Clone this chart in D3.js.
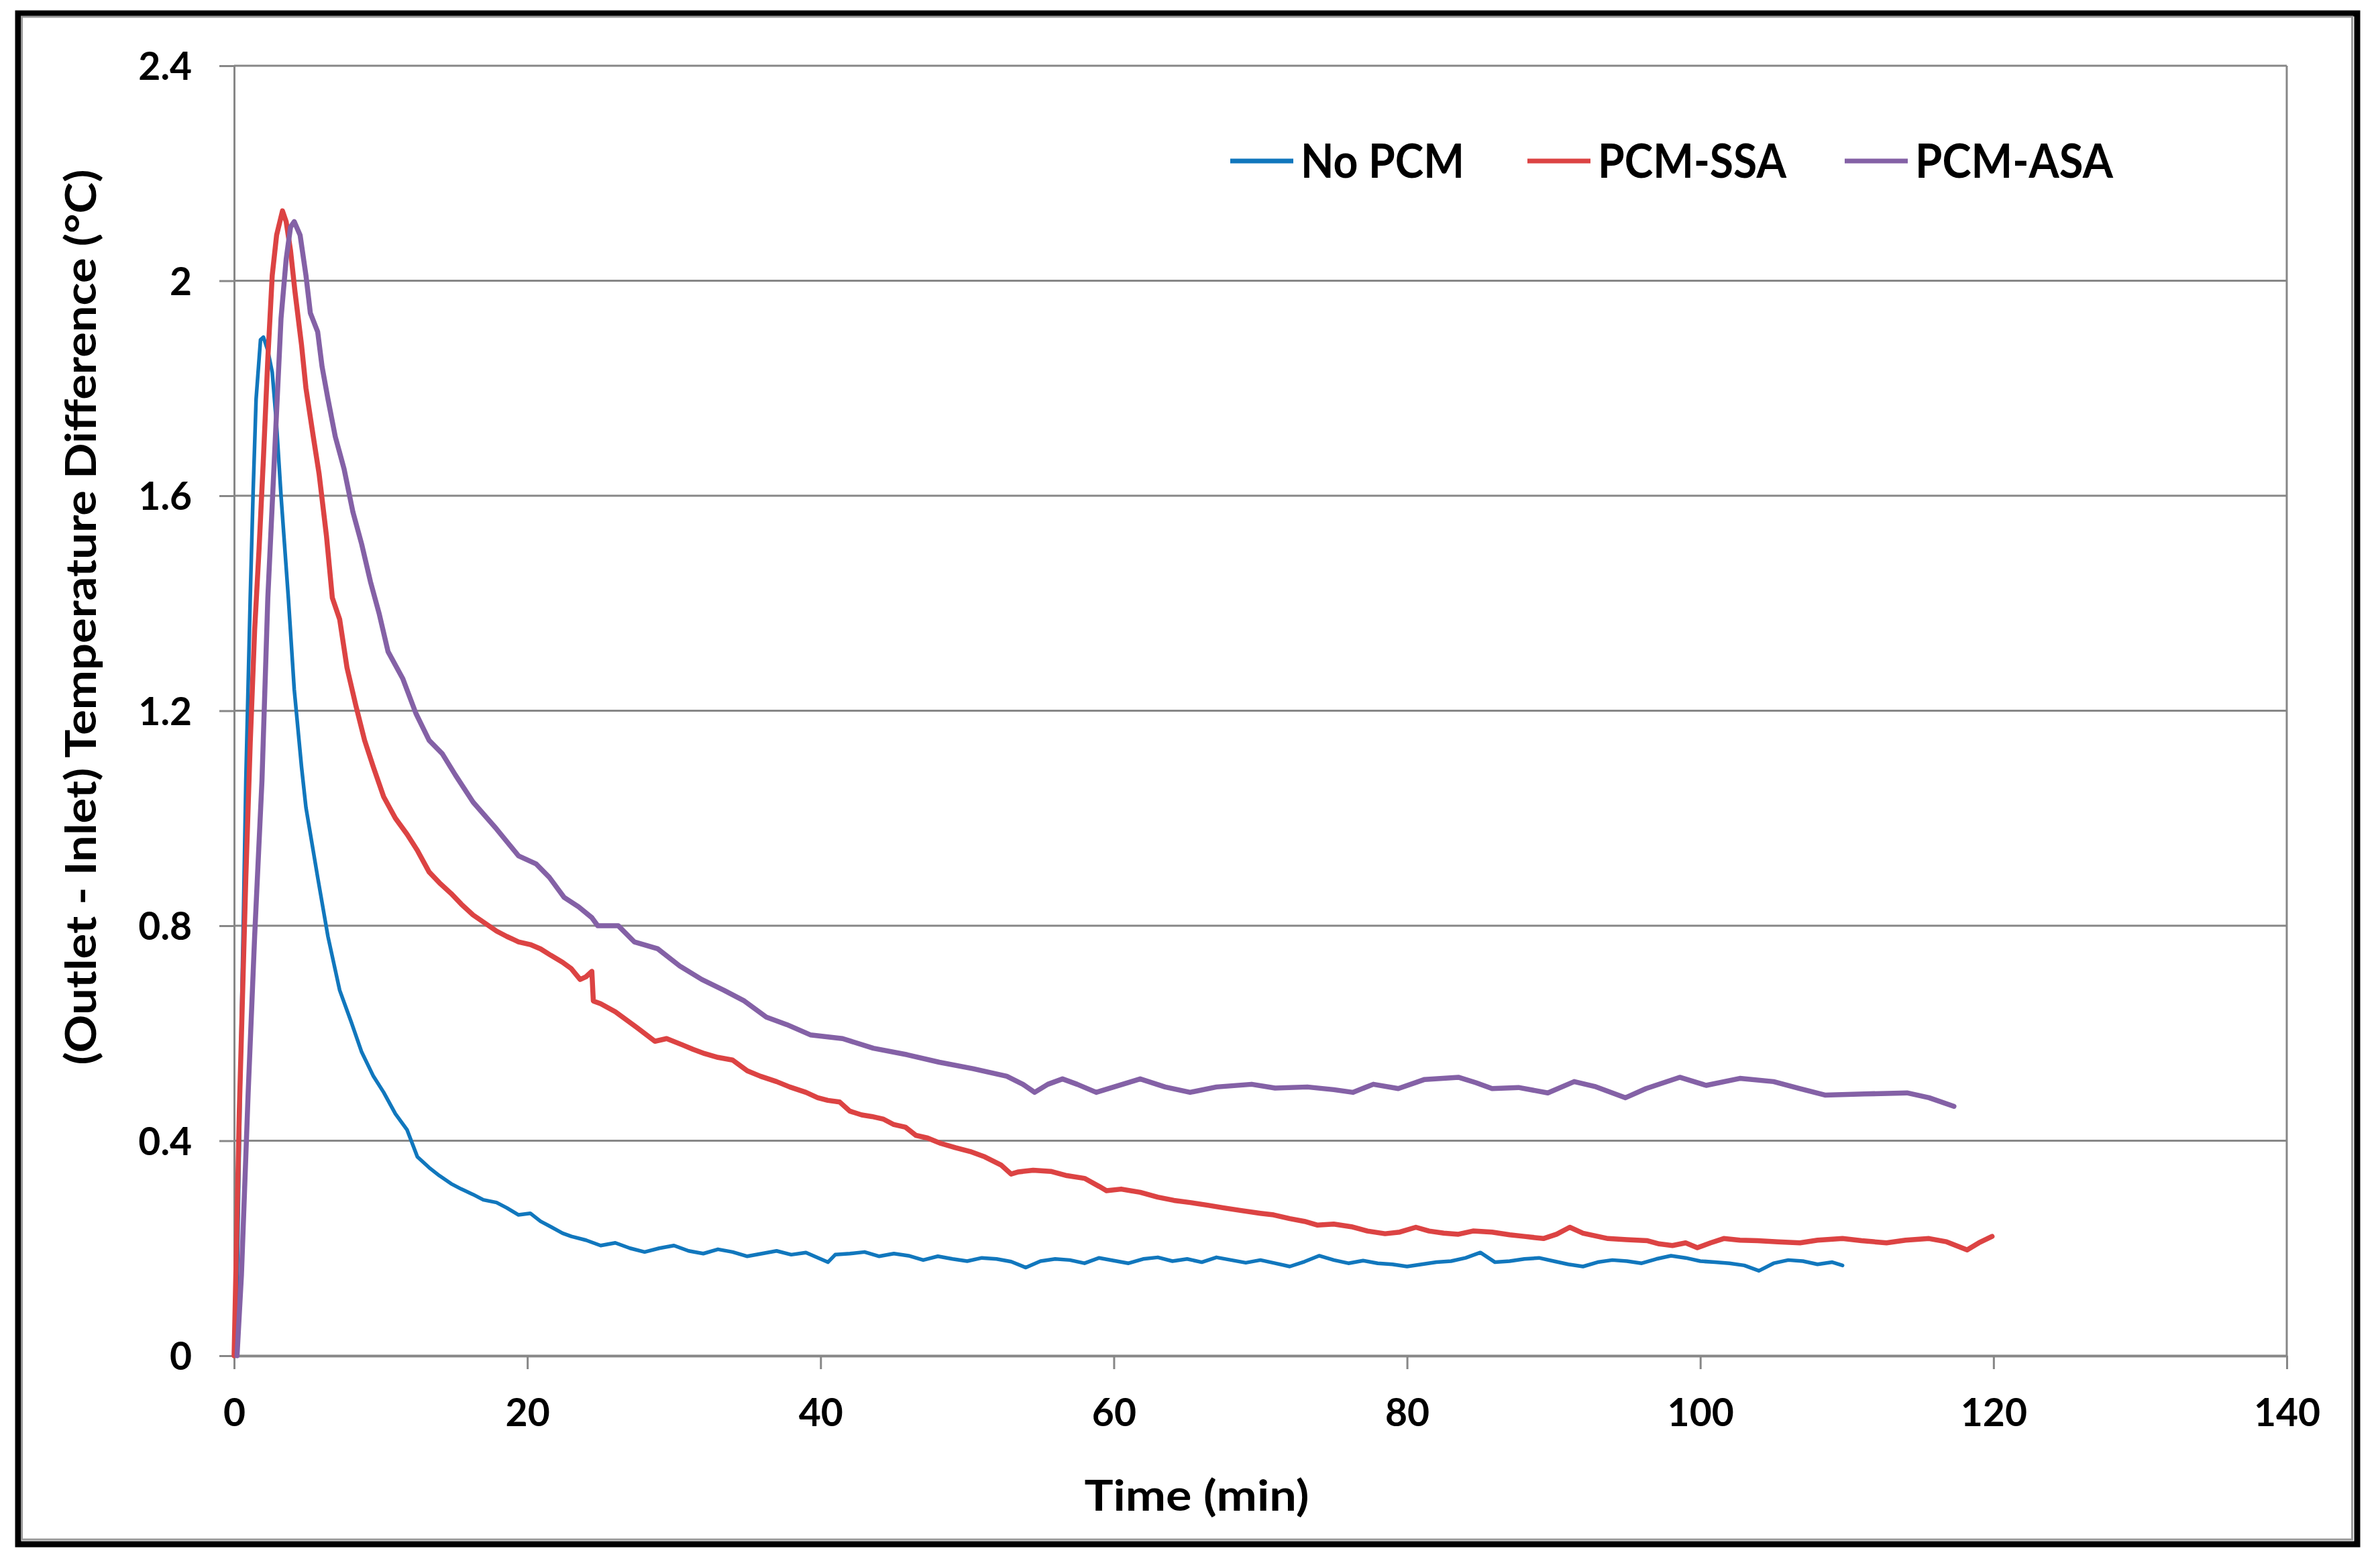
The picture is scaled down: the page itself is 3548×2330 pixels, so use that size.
<!DOCTYPE html>
<html>
<head>
<meta charset="utf-8">
<script src="https://cdn.jsdelivr.net/npm/d3@7"></script>
<style>
body { margin: 0; background: #fff; }
text { font-family: Lato, 'Open Sans', sans-serif; font-weight: bold; fill: #000; }
</style>
</head>
<body>
<svg id="chart"></svg>
<script>
const width = 3548;
const height = 2330;

// series names / colours
const seriesNames = ['No PCM', 'PCM-SSA', 'PCM-ASA'];
const seriesColors = ['#1177bd', '#dc4343', '#8461a6'];
const seriesWidths = [5.5, 7.5, 7.5];

const xTicks = [0, 20, 40, 60, 80, 100, 120, 140];
const yTicks = [0, 0.4, 0.8, 1.2, 1.6, 2, 2.4];

// [time (min), outlet - inlet (°C)]
const noPcm = [
    [0, 0], [0.2, 0.12], [0.5, 0.63], [0.65, 0.84], [0.8, 1.07], [1.1, 1.41], [1.3, 1.61],
    [1.5, 1.78], [1.8, 1.89], [2.0, 1.895], [2.3, 1.87], [2.6, 1.83], [2.9, 1.73], [3.2, 1.6],
    [3.7, 1.41], [4.1, 1.24], [4.6, 1.095], [4.9, 1.02], [5.7, 0.89], [6.4, 0.78], [7.2, 0.68],
    [8.0, 0.62], [8.7, 0.565], [9.5, 0.52], [10.2, 0.49], [11.0, 0.45], [11.8, 0.42], [12.5, 0.37],
    [13.3, 0.35], [14.0, 0.335], [14.8, 0.32], [15.5, 0.31], [16.3, 0.3], [17.0, 0.29], [17.9, 0.285],
    [18.6, 0.275], [19.4, 0.262], [20.2, 0.265], [20.9, 0.25], [21.6, 0.24], [22.4, 0.228],
    [23, 0.222], [24, 0.215], [25, 0.205], [26, 0.21], [27, 0.2], [28, 0.193], [29, 0.2],
    [30, 0.205], [31, 0.195], [32, 0.19], [33, 0.198], [34, 0.193], [35, 0.185], [36, 0.19],
    [37, 0.195], [38, 0.188], [39, 0.192], [40, 0.18], [40.5, 0.174], [41, 0.188], [42, 0.19],
    [43, 0.193], [44, 0.185], [45, 0.19], [46, 0.186], [47, 0.178], [48, 0.185], [49, 0.18],
    [50, 0.176], [51, 0.182], [52, 0.18], [53, 0.175], [54, 0.164], [55, 0.176], [56, 0.18],
    [57, 0.178], [58, 0.172], [59, 0.182], [60, 0.177], [61, 0.172], [62, 0.18], [63, 0.183],
    [64, 0.176], [65, 0.18], [66, 0.174], [67, 0.183], [68, 0.178], [69, 0.173], [70, 0.178],
    [71, 0.172], [72, 0.166], [73, 0.175], [74, 0.186], [75, 0.178], [76, 0.172], [77, 0.177],
    [78, 0.172], [79, 0.17], [80, 0.166], [81, 0.17], [82, 0.174], [83, 0.176], [84, 0.182],
    [85, 0.192], [86, 0.174], [87, 0.176], [88, 0.18], [89, 0.182], [90, 0.176], [91, 0.17],
    [92, 0.166], [93, 0.174], [94, 0.178], [95, 0.176], [96, 0.172], [97, 0.18], [98, 0.186],
    [99, 0.182], [100, 0.176], [101, 0.174], [102, 0.172], [103, 0.168], [104, 0.158], [105, 0.172],
    [106, 0.178], [107, 0.176], [108, 0.17], [109, 0.174], [109.7, 0.168]
];

const pcmSsa = [
    [0, 0], [0.35, 0.45], [0.8, 0.89], [1.1, 1.14], [1.4, 1.35], [1.7, 1.5], [2.0, 1.67],
    [2.3, 1.855], [2.6, 2.01], [2.9, 2.085], [3.3, 2.13], [3.55, 2.11], [3.85, 2.056], [4.15, 1.98],
    [4.6, 1.88], [4.9, 1.8], [5.4, 1.71], [5.8, 1.64], [6.3, 1.525], [6.7, 1.41], [7.2, 1.37],
    [7.7, 1.28], [8.3, 1.21], [8.9, 1.145], [9.5, 1.095], [10.2, 1.04], [11.0, 1.0], [11.8, 0.97],
    [12.5, 0.94], [13.3, 0.9], [14.0, 0.88], [14.8, 0.86], [15.5, 0.84], [16.3, 0.82], [17.1, 0.805],
    [17.9, 0.79], [18.6, 0.78], [19.4, 0.77], [20.2, 0.765], [20.9, 0.757], [21.6, 0.745],
    [22.4, 0.732], [23.0, 0.72], [23.6, 0.7], [24.0, 0.705], [24.4, 0.715], [24.5, 0.66],
    [25, 0.655], [26, 0.64], [27, 0.62], [27.5, 0.61], [28.7, 0.585], [29.5, 0.59], [30.6, 0.578],
    [31.3, 0.57], [32.1, 0.562], [33, 0.555], [34, 0.55], [35, 0.53], [35.9, 0.52], [37, 0.51],
    [37.9, 0.5], [39, 0.49], [39.8, 0.48], [40.5, 0.475], [41.3, 0.472], [42, 0.455], [42.8, 0.448],
    [43.5, 0.445], [44.3, 0.44], [45, 0.43], [45.8, 0.425], [46.5, 0.41], [47.3, 0.405],
    [48.2, 0.395], [49.2, 0.387], [50.2, 0.38], [51.2, 0.37], [52.3, 0.355], [53, 0.338],
    [53.5, 0.342], [54.5, 0.345], [55.7, 0.343], [56.8, 0.335], [58, 0.33], [59, 0.315],
    [59.5, 0.307], [60.5, 0.31], [61.8, 0.304], [63, 0.295], [64.1, 0.289], [65.2, 0.285],
    [66.4, 0.28], [67.5, 0.275], [68.7, 0.27], [70, 0.265], [70.9, 0.262], [72, 0.255], [73, 0.25],
    [73.9, 0.243], [75, 0.245], [76.2, 0.24], [77.3, 0.232], [78.5, 0.227], [79.5, 0.23],
    [80.6, 0.239], [81.5, 0.232], [82.5, 0.228], [83.5, 0.226], [84.5, 0.232], [85.8, 0.23],
    [87, 0.225], [88, 0.222], [89.3, 0.218], [90.2, 0.226], [91.1, 0.239], [92, 0.228],
    [93.7, 0.218], [95, 0.216], [96.4, 0.214], [97.2, 0.208], [98.1, 0.205], [99, 0.21],
    [99.8, 0.201], [100.7, 0.21], [101.6, 0.218], [102.7, 0.215], [103.9, 0.214], [105.3, 0.212],
    [106.8, 0.21], [108, 0.215], [109.7, 0.218], [111, 0.214], [112.7, 0.21], [114, 0.215],
    [115.6, 0.218], [116.8, 0.212], [118.2, 0.197], [119, 0.21], [119.9, 0.222]
];

const pcmAsa = [
    [0.2, 0], [0.5, 0.15], [0.96, 0.49], [1.4, 0.78], [1.9, 1.07], [2.3, 1.41], [2.8, 1.7],
    [3.2, 1.93], [3.55, 2.04], [3.85, 2.1], [4.1, 2.11], [4.5, 2.085], [4.9, 2.01], [5.2, 1.94],
    [5.7, 1.905], [6.0, 1.84], [6.4, 1.78], [6.9, 1.71], [7.5, 1.65], [8.1, 1.57], [8.7, 1.51],
    [9.3, 1.44], [9.9, 1.38], [10.5, 1.31], [11.5, 1.26], [12.4, 1.195], [13.3, 1.145],
    [14.2, 1.12], [15.1, 1.08], [16.3, 1.03], [17.9, 0.98], [19.4, 0.93], [20.6, 0.915],
    [21.5, 0.89], [22.5, 0.853], [23.5, 0.835], [24.4, 0.815], [24.8, 0.8], [26.2, 0.8],
    [27.3, 0.77], [28.9, 0.757], [30.4, 0.725], [31.9, 0.7], [33.4, 0.68], [34.8, 0.66],
    [36.3, 0.63], [37.7, 0.616], [39.3, 0.597], [41.5, 0.59], [43.6, 0.572], [45.9, 0.56],
    [48.1, 0.546], [50.4, 0.534], [52.7, 0.52], [53.8, 0.505], [54.6, 0.49], [55.5, 0.505],
    [56.5, 0.515], [57.5, 0.505], [58.8, 0.49], [60, 0.5], [61.8, 0.515], [63.5, 0.5],
    [65.2, 0.49], [67, 0.5], [69.4, 0.505], [71, 0.498], [73.2, 0.5], [75, 0.495], [76.3, 0.49],
    [77.7, 0.505], [79.4, 0.497], [81.2, 0.514], [83.5, 0.518], [84.7, 0.508], [85.8, 0.497],
    [87.6, 0.499], [89.6, 0.489], [91.4, 0.51], [92.8, 0.501], [94.9, 0.48], [96.3, 0.497],
    [98.6, 0.518], [100.4, 0.503], [102.7, 0.516], [105.0, 0.51], [106.8, 0.497], [108.5, 0.485],
    [111.2, 0.487], [114.1, 0.489], [115.6, 0.48], [117.3, 0.464]
];

const allSeries = [noPcm, pcmSsa, pcmAsa];

const plotLeft = 349;
const plotRight = 3409;
const plotTop = 98;
const plotBottom = 2021;
const gridColor = '#878787';

let svg = d3.select('#chart')
    .attr('width', width)
    .attr('height', height);

// frame
svg.append('rect')
    .attr('x', 0).attr('y', 0).attr('width', width).attr('height', height)
    .attr('fill', '#fff');
svg.append('rect')
    .attr('x', 27).attr('y', 20).attr('width', 3487).attr('height', 2282)
    .attr('fill', 'none').attr('stroke', '#000').attr('stroke-width', 9);
svg.append('rect')
    .attr('x', 32.5).attr('y', 25).attr('width', 3474).attr('height', 2270)
    .attr('fill', 'none').attr('stroke', '#999').attr('stroke-width', 3);

let xScale = d3.scaleLinear().domain([0, 140]).range([plotLeft, plotRight]);
let yScale = d3.scaleLinear().domain([0, 2.4]).range([plotBottom, plotTop]);

// gridlines
svg.append('g')
    .selectAll('line')
    .data(yTicks.filter(d => d > 0))
    .enter()
    .append('line')
    .attr('x1', plotLeft).attr('x2', plotRight)
    .attr('y1', d => yScale(d)).attr('y2', d => yScale(d))
    .attr('stroke', gridColor).attr('stroke-width', 3);

svg.append('line')
    .attr('x1', plotRight).attr('x2', plotRight)
    .attr('y1', plotTop).attr('y2', plotBottom)
    .attr('stroke', gridColor).attr('stroke-width', 3);

// axes
let xAxis = d3.axisBottom(xScale)
    .tickValues(xTicks)
    .tickSize(20)
    .tickSizeOuter(0)
    .tickFormat(d3.format('d'));

let yAxis = d3.axisLeft(yScale)
    .tickValues(yTicks)
    .tickSize(22)
    .tickSizeOuter(0)
    .tickPadding(41)
    .tickFormat(d3.format('~g'));

let gx = svg.append('g')
    .attr('transform', 'translate(0,' + plotBottom + ')')
    .call(xAxis);
gx.select('.domain').attr('stroke', gridColor).attr('stroke-width', 4);
gx.selectAll('.tick line').attr('stroke', gridColor).attr('stroke-width', 3);
gx.selectAll('.tick text')
    .attr('y', 105).attr('dy', 0)
    .style('font-size', '57px');

let gy = svg.append('g')
    .attr('transform', 'translate(' + plotLeft + ',0)')
    .call(yAxis);
gy.select('.domain').attr('stroke', gridColor).attr('stroke-width', 3);
gy.selectAll('.tick line').attr('stroke', gridColor).attr('stroke-width', 3);
gy.selectAll('.tick text')
    .attr('dy', '0.36em')
    .style('font-size', '57px');

// series
let line = d3.line()
    .x(d => xScale(d[0]))
    .y(d => yScale(d[1]));

svg.append('g')
    .selectAll('path')
    .data(allSeries)
    .enter()
    .append('path')
    .attr('d', d => line(d))
    .attr('fill', 'none')
    .attr('stroke', (d, i) => seriesColors[i])
    .attr('stroke-width', (d, i) => seriesWidths[i])
    .attr('stroke-linejoin', 'round')
    .attr('stroke-linecap', 'round');

// legend
const legendLineX = [1834, 2277, 2750];
const legendTextWidth = [244, 281, 295];
let legend = svg.append('g');
seriesNames.forEach((name, i) => {
    legend.append('line')
        .attr('x1', legendLineX[i]).attr('x2', legendLineX[i] + 94)
        .attr('y1', 240).attr('y2', 240)
        .attr('stroke', seriesColors[i]).attr('stroke-width', 7);
    legend.append('text')
        .attr('x', legendLineX[i] + 105).attr('y', 265)
        .attr('textLength', legendTextWidth[i])
        .attr('lengthAdjust', 'spacingAndGlyphs')
        .style('font-size', '70px')
        .text(name);
});

// axis titles
svg.append('text')
    .attr('x', 1784).attr('y', 2252)
    .attr('text-anchor', 'middle')
    .attr('textLength', 335)
    .attr('lengthAdjust', 'spacingAndGlyphs')
    .style('font-size', '64px')
    .text('Time (min)');

svg.append('text')
    .attr('transform', 'translate(143,920) rotate(-90)')
    .attr('text-anchor', 'middle')
    .attr('textLength', 1335)
    .attr('lengthAdjust', 'spacingAndGlyphs')
    .style('font-size', '64px')
    .text('(Outlet - Inlet) Temperature Difference (°C)');
</script>
</body>
</html>
